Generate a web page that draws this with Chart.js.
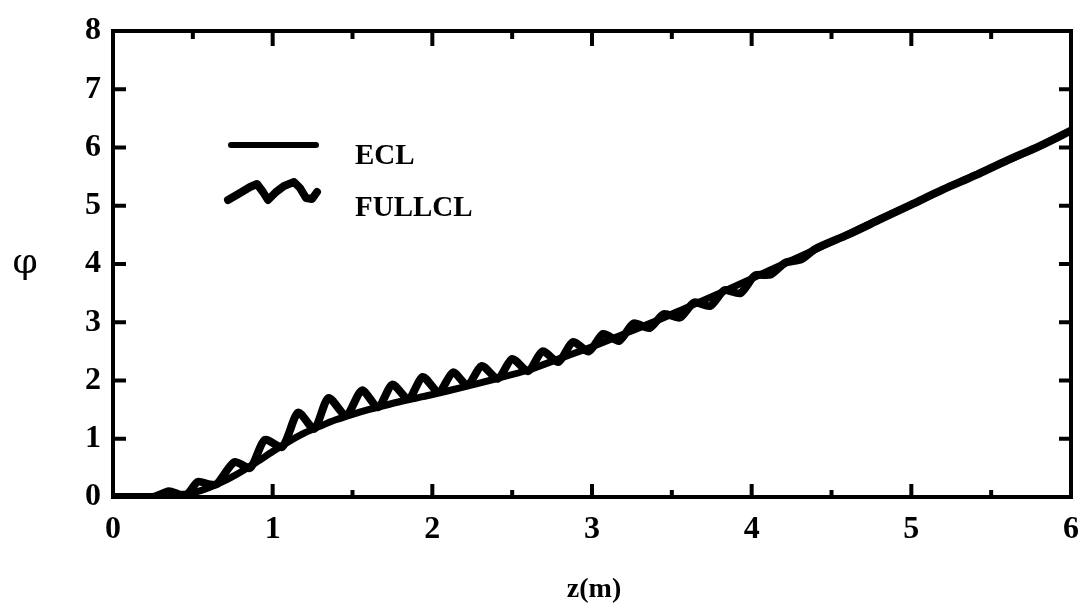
<!DOCTYPE html>
<html>
<head>
<meta charset="utf-8">
<script src="https://cdn.jsdelivr.net/npm/chart.js@4"></script>
<style>
  html, body { margin: 0; padding: 0; background: #fff; }
  #wrap { width: 1080px; height: 609px; }
</style>
</head>
<body>
<div id="wrap"><canvas id="myChart" width="1080" height="609"></canvas></div>
<script>
// ECL curve (smooth)
const eclZ = [0,0.2,0.3,0.4,0.5,0.6,0.7,0.8,0.9,1.0,1.1,1.2,1.3,1.4,1.5,1.6,1.7,1.8,1.9,2.0,
  2.2,2.4,2.6,2.8,3.0,3.2,3.4,3.6,3.8,4.0,4.2,4.4,4.6,4.8,5.0,5.2,5.4,5.6,5.8,6.0];
const eclPhi = [0,0,0,0.02,0.07,0.16,0.28,0.43,0.6,0.78,0.95,1.1,1.22,1.33,1.42,1.5,1.57,1.64,1.7,1.76,
  1.89,2.03,2.18,2.38,2.58,2.8,3.02,3.26,3.5,3.75,4.0,4.25,4.51,4.77,5.02,5.28,5.53,5.77,6.02,6.29];

// FULLCL curve (oscillating)
const fullZ = [0,0.25,0.35,0.42,0.47,0.53,0.6,0.65,0.76,0.86,0.95,1.06,1.16,1.26,1.35,1.46,1.56,1.66,1.75,1.85,
  1.94,2.04,2.13,2.22,2.31,2.41,2.5,2.6,2.69,2.79,2.88,2.98,3.07,3.17,3.26,3.36,3.45,3.55,3.64,3.74,
  3.83,3.93,4.02,4.12,4.21,4.31,4.4,4.6,4.8,5.0,5.2,5.4,5.6,5.8,6.0];
const fullPhi = [0,0,0.1,0.04,0.06,0.26,0.22,0.22,0.6,0.5,0.98,0.86,1.45,1.17,1.7,1.4,1.83,1.54,1.93,1.68,
  2.06,1.8,2.14,1.92,2.25,2.03,2.37,2.16,2.5,2.32,2.66,2.5,2.8,2.68,2.98,2.9,3.14,3.08,3.34,3.28,
  3.55,3.5,3.8,3.82,4.02,4.08,4.26,4.5,4.76,5.02,5.28,5.52,5.78,6.02,6.29];

const xTicks = [0,1,2,3,4,5,6];
const yTicks = [0,1,2,3,4,5,6,7,8];

const serif = "'Liberation Serif', 'DejaVu Serif', serif";

const frame = {
  id: 'frame',
  afterDraw(chart) {
    const c = chart.ctx, a = chart.chartArea;
    const xs = chart.scales.x, ys = chart.scales.y;
    c.save();
    c.strokeStyle = '#000';
    c.lineWidth = 4;
    c.strokeRect(a.left, a.top, a.right - a.left, a.bottom - a.top);
    c.beginPath();
    for (let v = 0.5; v < 6; v += 0.5) {
      const px = xs.getPixelForValue(v);
      const major = Number.isInteger(v);
      c.moveTo(px, a.bottom); c.lineTo(px, a.bottom - (major ? 13 : 7));
      c.moveTo(px, a.top); c.lineTo(px, a.top + (major ? 15 : 8));
    }
    for (let v = 1; v < 8; v++) {
      const py = ys.getPixelForValue(v);
      c.moveTo(a.left, py); c.lineTo(a.left + 13, py);
      c.moveTo(a.right, py); c.lineTo(a.right - 12, py);
    }
    c.stroke();

    // legend
    c.lineCap = 'round';
    c.lineJoin = 'round';
    c.lineWidth = 6;
    c.beginPath();
    c.moveTo(231, 145); c.lineTo(316, 145);
    c.stroke();
    c.lineWidth = 8;
    c.beginPath();
    const wave = [[228,200],[240,193],[250,187],[257,184],[263,192],[268,200],[276,192],[284,186],[294,182],[300,188],[306,198],[312,199],[317,192]];
    wave.forEach((p, i) => i ? c.lineTo(p[0], p[1]) : c.moveTo(p[0], p[1]));
    c.stroke();

    c.fillStyle = '#000';
    c.textBaseline = 'alphabetic';
    c.textAlign = 'left';
    c.font = 'bold 29px ' + serif;
    c.fillText('ECL', 355, 164);
    c.fillText('FULLCL', 355, 216);

    c.textAlign = 'center';
    c.font = 'bold 28px ' + serif;
    c.fillText('z(m)', 594, 597);
    c.font = "36px 'DejaVu Serif', serif";
    c.fillText('φ', 25, 273);
    c.restore();
  }
};

const ctx = document.getElementById('myChart');

new Chart(ctx, {
  type: 'line',
  data: {
    datasets: [{
      label: 'ECL',
      data: eclZ.map((z, i) => ({ x: z, y: eclPhi[i] })),
      borderColor: '#000',
      borderWidth: 7,
      pointRadius: 0,
      tension: 0.3,
      borderCapStyle: 'round',
      borderJoinStyle: 'round'
    },{
      label: 'FULLCL',
      data: fullZ.map((z, i) => ({ x: z, y: fullPhi[i] })),
      borderColor: '#000',
      borderWidth: 8,
      pointRadius: 0,
      tension: 0.25,
      borderCapStyle: 'round',
      borderJoinStyle: 'round'
    }]
  },
  options: {
    responsive: false,
    animation: false,
    layout: { padding: { left: 0, top: 31, right: 9, bottom: 0 } },
    plugins: { legend: { display: false }, tooltip: { enabled: false } },
    scales: {
      x: {
        type: 'linear', min: 0, max: 6,
        afterBuildTicks: s => { s.ticks = xTicks.map(v => ({ value: v })); },
        afterFit: s => { s.height = 112; s.paddingLeft = 0; s.paddingRight = 0; },
        grid: { display: false, drawTicks: false },
        border: { display: false },
        ticks: { color: '#000', padding: 14, font: { family: serif, size: 32, weight: 'bold' } }
      },
      y: {
        type: 'linear', min: 0, max: 8,
        afterBuildTicks: s => { s.ticks = yTicks.map(v => ({ value: v })); },
        afterFit: s => { s.width = 113; s.paddingTop = 0; s.paddingBottom = 0; },
        grid: { display: false, drawTicks: false },
        border: { display: false },
        ticks: { color: '#000', padding: 12, font: { family: serif, size: 32, weight: 'bold' } }
      }
    }
  },
  plugins: [frame]
});
</script>
</body>
</html>
